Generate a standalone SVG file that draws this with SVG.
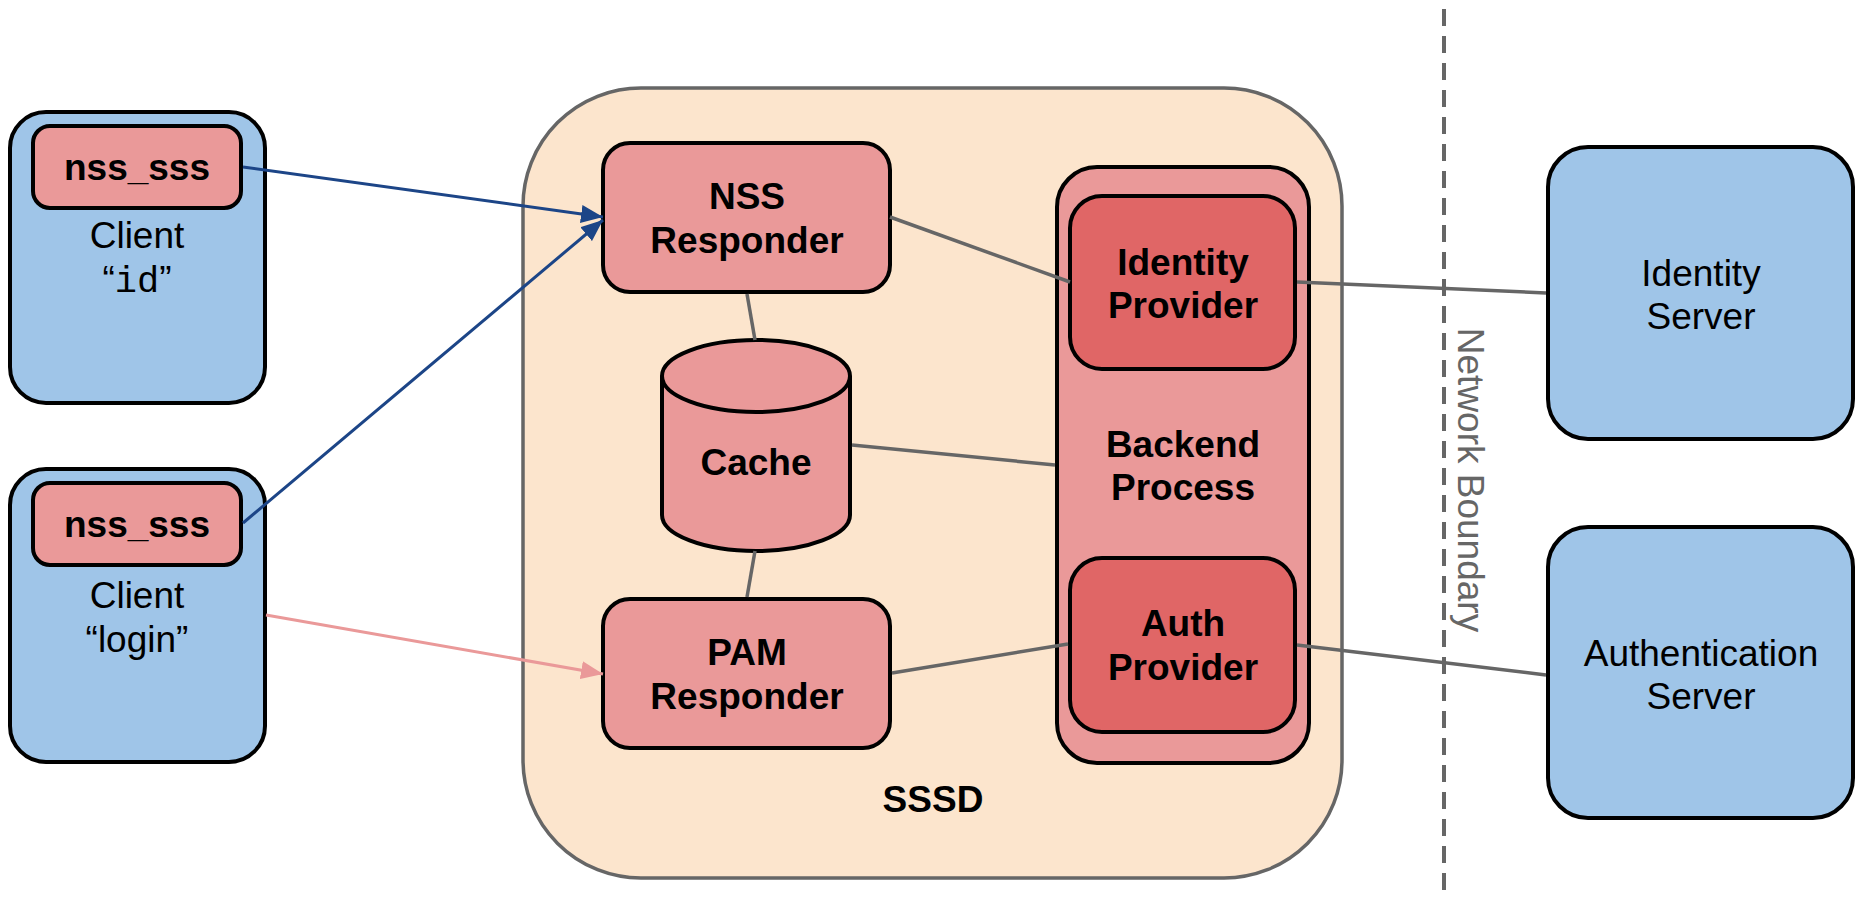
<svg xmlns="http://www.w3.org/2000/svg" width="1855" height="897" viewBox="0 0 1855 897">
<style>
.blue{fill:#9fc5e8;stroke:#000;stroke-width:4}
.pink{fill:#ea9999;stroke:#000;stroke-width:4}
.red{fill:#e06666;stroke:#000;stroke-width:4}
.t{font-family:"Liberation Sans",Arial,sans-serif;font-size:37px;fill:#000;text-anchor:middle}
.b{font-weight:bold}
.mono{font-family:"Liberation Mono","Courier New",monospace}
.conn{stroke:#666;stroke-width:3.5;fill:none}
</style>
<defs>
<marker id="ab" markerWidth="22" markerHeight="18" refX="22" refY="9" orient="auto" markerUnits="userSpaceOnUse"><path d="M0,0 L22,9 L0,18 z" fill="#1c4587"/></marker>
<marker id="ap" markerWidth="22" markerHeight="18" refX="22" refY="9" orient="auto" markerUnits="userSpaceOnUse"><path d="M0,0 L22,9 L0,18 z" fill="#ea9999"/></marker>
</defs>
<rect width="1855" height="897" fill="#fff"/>

<g id="network-boundary">
<line x1="1444" y1="9" x2="1444" y2="892" stroke="#666" stroke-width="4" stroke-dasharray="17,10"/>
<text class="t" transform="translate(1458,480) rotate(90)" style="fill:#666">Network Boundary</text>
</g>

<g id="sssd">
<rect x="523" y="88" width="819" height="790" rx="118" ry="118" fill="#fce5cd" stroke="#666" stroke-width="3.5"/>
<text class="t b" x="933" y="812">SSSD</text>
</g>

<g id="client-id">
<rect class="blue" x="10" y="112" width="255" height="291" rx="36"/>
<g id="nss-sss-1">
<rect class="pink" x="33" y="126" width="208" height="82" rx="17"/>
<text class="t b" x="137" y="180">nss_sss</text>
</g>
<text class="t" x="137" y="248">Client</text>
<text class="t" x="137" y="292">“<tspan class="mono">id</tspan>”</text>
</g>

<g id="client-login">
<rect class="blue" x="10" y="469" width="255" height="293" rx="36"/>
<g id="nss-sss-2">
<rect class="pink" x="33" y="483" width="208" height="82" rx="17"/>
<text class="t b" x="137" y="537">nss_sss</text>
</g>
<text class="t" x="137" y="608">Client</text>
<text class="t" x="137" y="652">“login”</text>
</g>

<g id="nss-responder">
<rect class="pink" x="603" y="143" width="287" height="149" rx="27"/>
<text class="t b" x="747" y="209">NSS</text>
<text class="t b" x="747" y="253">Responder</text>
</g>

<g id="cache">
<path class="pink" d="M662,376 L662,515 A94,36 0 0 0 850,515 L850,376 A94,36 0 0 0 662,376 Z"/>
<path d="M662,376 A94,36 0 0 0 850,376" fill="none" stroke="#000" stroke-width="4"/>
<text class="t b" x="756" y="475">Cache</text>
</g>

<g id="pam-responder">
<rect class="pink" x="603" y="599" width="287" height="149" rx="27"/>
<text class="t b" x="747" y="665">PAM</text>
<text class="t b" x="747" y="709">Responder</text>
</g>

<g id="backend-process">
<rect class="pink" x="1057" y="167" width="252" height="596" rx="40"/>
<text class="t b" x="1183" y="457">Backend</text>
<text class="t b" x="1183" y="500">Process</text>
</g>

<g id="identity-provider">
<rect class="red" x="1070" y="196" width="225" height="173" rx="32"/>
<text class="t b" x="1183" y="275">Identity</text>
<text class="t b" x="1183" y="318">Provider</text>
</g>

<g id="auth-provider">
<rect class="red" x="1070" y="558" width="225" height="174" rx="32"/>
<text class="t b" x="1183" y="636">Auth</text>
<text class="t b" x="1183" y="680">Provider</text>
</g>

<g id="identity-server">
<rect class="blue" x="1548" y="147" width="305" height="292" rx="40"/>
<text class="t" x="1701" y="286">Identity</text>
<text class="t" x="1701" y="329">Server</text>
</g>

<g id="authentication-server">
<rect class="blue" x="1548" y="527" width="305" height="291" rx="40"/>
<text class="t" x="1701" y="666">Authentication</text>
<text class="t" x="1701" y="709">Server</text>
</g>

<g id="connectors">
<line class="conn" x1="890" y1="217" x2="1070" y2="282"/>
<line class="conn" x1="747" y1="294" x2="755" y2="340"/>
<line class="conn" x1="755" y1="551" x2="747" y2="597"/>
<line class="conn" x1="852" y1="445" x2="1055" y2="465"/>
<line class="conn" x1="892" y1="673" x2="1068" y2="644"/>
<line class="conn" x1="1297" y1="282" x2="1546" y2="293"/>
<line class="conn" x1="1297" y1="645" x2="1546" y2="675"/>
<line x1="243" y1="167" x2="603" y2="217" stroke="#1c4587" stroke-width="3" marker-end="url(#ab)"/>
<line x1="243" y1="523" x2="603" y2="220" stroke="#1c4587" stroke-width="3" marker-end="url(#ab)"/>
<line x1="266" y1="615" x2="603" y2="674" stroke="#ea9999" stroke-width="3" marker-end="url(#ap)"/>
</g>
</svg>
